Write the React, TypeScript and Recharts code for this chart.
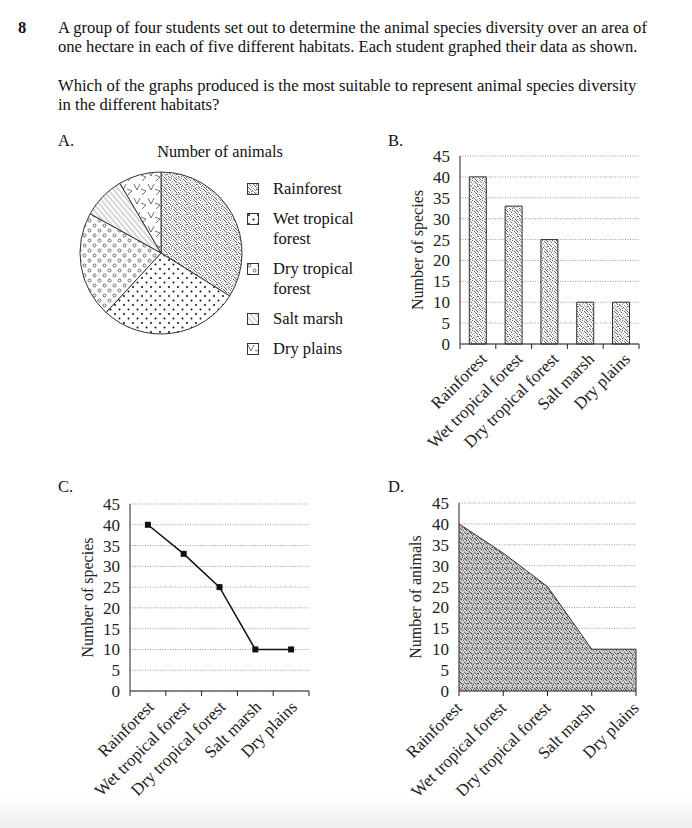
import React from "react";
import {
  Area,
  AreaChart,
  Bar,
  BarChart,
  CartesianGrid,
  Cell,
  Line,
  LineChart,
  Pie,
  PieChart,
  ReferenceLine,
  XAxis,
  YAxis,
} from "recharts";

const habitats = ["Rainforest", "Wet tropical forest", "Dry tropical forest", "Salt marsh", "Dry plains"];
const speciesCounts = [40, 33, 25, 10, 10];
const yTicks = [0, 5, 10, 15, 20, 25, 30, 35, 40, 45];
const slicePatterns = ["stipple", "dots", "rings", "hatch", "chevrons"];
const legendLines = [["Rainforest"], ["Wet tropical", "forest"], ["Dry tropical", "forest"], ["Salt marsh"], ["Dry plains"]];

const rows = habitats.map((habitat, i) => ({ habitat, value: speciesCounts[i] }));

const serif = '"Liberation Serif", "DejaVu Serif", serif';
const ink = "#222";

// hand-placed speckle (column positions per row of a 10x10 tile) for the grey fills
const speckleRows = [
  [1, 4, 8], [2, 6, 9], [0, 3, 7], [5, 8], [1, 4, 9],
  [2, 6], [0, 3, 7, 9], [5, 8], [1, 4, 6], [2, 7, 9],
];
const speckle = speckleRows.flatMap((cols, y) => cols.map((x) => [x, y]));

function Patterns() {
  return (
    <svg width={0} height={0} style={{ position: "absolute" }}>
      <defs>
        <pattern id="stipple" width={10} height={10} patternUnits="userSpaceOnUse">
          <rect width={10} height={10} fill="#f4f4f4" />
          {speckle.map(([x, y], i) => (
            <rect key={i} x={x} y={y} width={1} height={1} fill={i % 3 === 0 ? "#aaa" : "#666"} />
          ))}
        </pattern>
        <pattern id="stippleDense" width={10} height={10} patternUnits="userSpaceOnUse">
          <rect width={10} height={10} fill="#d6d6d6" />
          {speckle.map(([x, y], i) => (
            <rect key={i} x={x} y={y} width={1} height={1} fill={i % 3 === 0 ? "#777" : "#444"} />
          ))}
          {speckle.map(([x, y], i) => (
            <rect key={`b${i}`} x={(x + 5) % 10} y={y} width={1} height={1} fill="#aaa" />
          ))}
        </pattern>
        <pattern id="dots" width={9} height={9} patternUnits="userSpaceOnUse">
          <rect width={9} height={9} fill="#fff" />
          <circle cx={2} cy={2} r={1} fill="#111" />
          <circle cx={6.5} cy={6.5} r={1} fill="#111" />
        </pattern>
        <pattern id="rings" width={10} height={10} patternUnits="userSpaceOnUse">
          <rect width={10} height={10} fill="#fff" />
          <circle cx={2.5} cy={2.5} r={1.5} fill="none" stroke="#333" strokeWidth={0.7} />
          <circle cx={7.5} cy={7.5} r={1.5} fill="none" stroke="#333" strokeWidth={0.7} />
        </pattern>
        <pattern id="hatch" width={4} height={4} patternUnits="userSpaceOnUse" patternTransform="rotate(-40)">
          <rect width={4} height={4} fill="#fff" />
          <line x1={2} y1={0} x2={2} y2={4} stroke="#999" strokeWidth={0.8} />
        </pattern>
        <pattern id="chevrons" width={14} height={14} patternUnits="userSpaceOnUse">
          <rect width={14} height={14} fill="#fff" />
          <path d="M1 2 L4 8 L7 2" fill="none" stroke="#333" strokeWidth={0.7} />
          <path d="M8 7 L13 9 L9 13" fill="none" stroke="#333" strokeWidth={0.7} />
        </pattern>
      </defs>
    </svg>
  );
}

function SlantTick(props: any) {
  const { x, y, payload, half, dx, dy, edges } = props;
  const last = payload.value === habitats[habitats.length - 1];
  return (
    <g>
      {edges && <line x1={x - half} y1={y} x2={x - half} y2={y + 5} stroke={ink} />}
      {edges && last && <line x1={x + half} y1={y} x2={x + half} y2={y + 5} stroke={ink} />}
      <text
        x={0}
        y={0}
        transform={`translate(${x + dx},${y + dy}) rotate(-45)`}
        textAnchor="end"
        fontSize={17}
        fontFamily={serif}
        fill={ink}
      >
        {payload.value}
      </text>
    </g>
  );
}

function axisTitle(text: string, offset: number) {
  return (p: any) => {
    const vb = p.viewBox;
    const x = vb.x + offset;
    const cy = vb.y + vb.height / 2;
    return (
      <text x={x} y={cy} transform={`rotate(-90 ${x} ${cy})`} textAnchor="middle" fontSize={16} fontFamily={serif} fill={ink}>
        {text}
      </text>
    );
  };
}

const yAxisProps = {
  domain: [0, 45] as [number, number],
  ticks: yTicks,
  interval: 0 as const,
  tickLine: false,
  tickSize: 6,
  tickMargin: 4,
  axisLine: { stroke: ink },
  tick: { fontSize: 17, fill: ink, fontFamily: serif },
};

const grid = <CartesianGrid vertical={false} stroke="#999" strokeDasharray="1 1.5" />;

const abs = (left: number, top: number): React.CSSProperties => ({ position: "absolute", left, top });

function SquareDot(p: any) {
  return <rect key={p.index} x={p.cx - 3} y={p.cy - 3} width={6} height={6} fill="#111" />;
}

export default function App() {
  const bandB = (270 - 72 - 19) / habitats.length / 2;
  const bandC = (270 - 80 - 11) / habitats.length / 2;
  return (
    <div style={{ position: "absolute", left: 0, top: 0, width: 692, height: 828, background: "#fff", fontFamily: serif, color: "#111", overflow: "hidden" }}>
      <Patterns />
      <div style={{ ...abs(18, 18), fontSize: 16.5, fontWeight: "bold", lineHeight: "19px" }}>8</div>
      <div style={{ ...abs(58, 18), fontSize: 16.6, lineHeight: "19px", width: 630, whiteSpace: "nowrap" }}>
        A group of four students set out to determine the animal species diversity over an area of
        <br />
        one hectare in each of five different habitats. Each student graphed their data as shown.
      </div>
      <div style={{ ...abs(58, 76), fontSize: 16.6, lineHeight: "19px", width: 630, whiteSpace: "nowrap" }}>
        Which of the graphs produced is the most suitable to represent animal species diversity
        <br />
        in the different habitats?
      </div>

      <div style={{ ...abs(58, 131), fontSize: 16.5, lineHeight: "19px" }}>A.</div>
      <div style={{ ...abs(388, 131), fontSize: 16.5, lineHeight: "19px" }}>B.</div>
      <div style={{ ...abs(58, 477), fontSize: 16.5, lineHeight: "19px" }}>C.</div>
      <div style={{ ...abs(388, 477), fontSize: 16.5, lineHeight: "19px" }}>D.</div>

      {/* A: pie */}
      <div style={{ ...abs(140, 142), width: 160, textAlign: "center", fontSize: 16.3, lineHeight: "19px" }}>Number of animals</div>
      <div style={abs(77, 168)}>
        <PieChart width={170} height={170} margin={{ top: 0, right: 0, bottom: 0, left: 0 }}>
          <Pie
            data={rows}
            dataKey="value"
            nameKey="habitat"
            cx={84}
            cy={85}
            outerRadius={81}
            startAngle={90}
            endAngle={-270}
            stroke="#333"
            strokeWidth={1}
            isAnimationActive={false}
          >
            {rows.map((r, i) => (
              <Cell key={r.habitat} fill={`url(#${slicePatterns[i]})`} />
            ))}
          </Pie>
        </PieChart>
      </div>
      <div style={{ ...abs(247, 179), fontSize: 16.5, lineHeight: "20px" }}>
        {legendLines.map((lines, i) => (
          <div key={i} style={{ position: "relative", paddingLeft: 26, marginBottom: 10 }}>
            <svg width={12} height={12} style={{ position: "absolute", left: 0, top: 4 }}>
              <rect x={0.5} y={0.5} width={11} height={11} fill={`url(#${slicePatterns[i]})`} stroke="#333" />
            </svg>
            {lines.map((l) => (
              <div key={l}>{l}</div>
            ))}
          </div>
        ))}
      </div>

      {/* B: bars */}
      <div style={abs(388, 140)}>
        <BarChart width={270} height={320} data={rows} margin={{ top: 16, right: 19, bottom: 6, left: 0 }} barCategoryGap="26%">
          {grid}
          <XAxis
            dataKey="habitat"
            interval={0}
            height={110}
            tickLine={false}
            tickSize={0}
            tickMargin={0}
            axisLine={{ stroke: ink }}
            tick={(p: any) => <SlantTick {...p} half={bandB} dx={10} dy={16} edges />}
          />
          <YAxis {...yAxisProps} width={72} label={{ content: axisTitle("Number of species", 35) }} />
          <Bar dataKey="value" fill="url(#stipple)" stroke="#333" strokeWidth={1} isAnimationActive={false} />
        </BarChart>
      </div>

      {/* C: line */}
      <div style={abs(50, 487)}>
        <LineChart width={270} height={320} data={rows} margin={{ top: 17, right: 11, bottom: 6, left: 0 }}>
          {grid}
          <XAxis
            dataKey="habitat"
            scale="band"
            interval={0}
            height={110}
            tickLine={false}
            tickSize={0}
            tickMargin={0}
            axisLine={{ stroke: ink }}
            tick={(p: any) => <SlantTick {...p} half={bandC} dx={7} dy={17} edges />}
          />
          <YAxis {...yAxisProps} width={80} label={{ content: axisTitle("Number of species", 43) }} />
          <Line dataKey="value" stroke="#111" strokeWidth={1.5} dot={SquareDot} isAnimationActive={false} />
        </LineChart>
      </div>

      {/* D: area */}
      <div style={abs(388, 487)}>
        <AreaChart width={270} height={320} data={rows} margin={{ top: 16, right: 22, bottom: 6, left: 0 }}>
          {grid}
          <XAxis
            dataKey="habitat"
            interval={0}
            height={110}
            tickLine={{ stroke: ink }}
            tickSize={5}
            tickMargin={0}
            axisLine={{ stroke: ink }}
            tick={(p: any) => <SlantTick {...p} half={0} dx={4} dy={13} />}
          />
          <YAxis {...yAxisProps} width={71} label={{ content: axisTitle("Number of animals", 33) }} />
          <Area dataKey="value" type="linear" fill="url(#stippleDense)" fillOpacity={1} stroke="#333" strokeWidth={1} isAnimationActive={false} />
          <ReferenceLine
            segment={[
              { x: habitats[habitats.length - 1], y: 0 },
              { x: habitats[habitats.length - 1], y: speciesCounts[speciesCounts.length - 1] },
            ]}
            stroke="#333"
          />
        </AreaChart>
      </div>

      <div style={{ ...abs(0, 796), width: 692, height: 32, background: "linear-gradient(#fff, #eeeeee)" }} />
    </div>
  );
}
